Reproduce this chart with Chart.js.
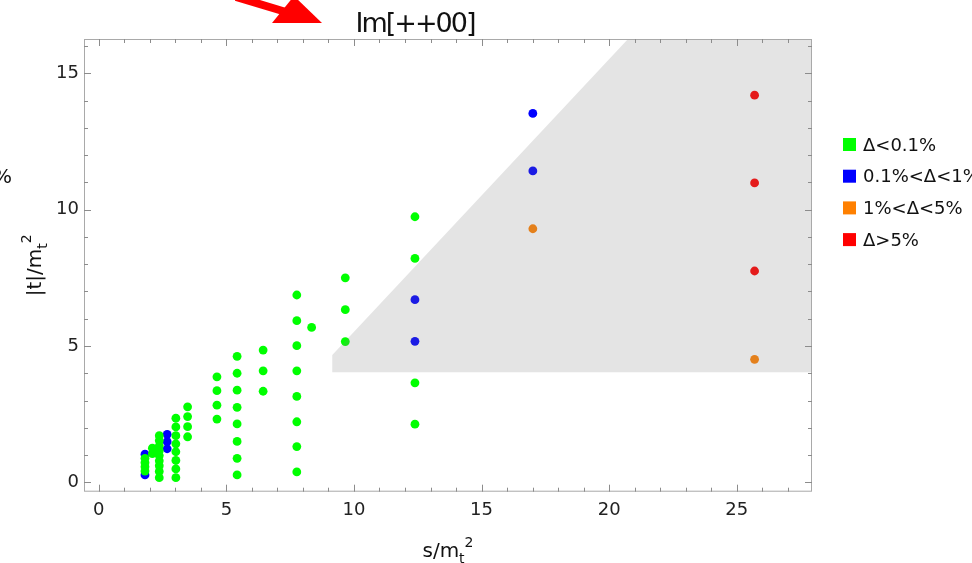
<!DOCTYPE html>
<html>
<head>
<meta charset="utf-8">
<script src="https://cdn.jsdelivr.net/npm/chart.js@4.4.1/dist/chart.umd.min.js"></script>
<style>
  html, body { margin: 0; padding: 0; background: #fff; }
  #wrap { width: 972px; height: 563px; position: relative; overflow: hidden; }
</style>
</head>
<body>
<div id="wrap"><canvas id="c" width="972" height="563"></canvas></div>
<script>
// points as [s/mt^2, |t|/mt^2]
const greenPoints = [
  [1.81, 0.88], [1.81, 0.72], [1.81, 0.57], [1.81, 0.41],
  [2.10, 1.25], [2.10, 1.05],
  [2.37, 1.71], [2.37, 1.53], [2.37, 1.34], [2.37, 1.16], [2.37, 0.98],
  [2.37, 0.79], [2.37, 0.61], [2.37, 0.40], [2.37, 0.17],
  [3.02, 2.35], [3.02, 2.03], [3.02, 1.71], [3.02, 1.41], [3.02, 1.12],
  [3.02, 0.80], [3.02, 0.49], [3.02, 0.17],
  [3.48, 2.77], [3.48, 2.41], [3.48, 2.04], [3.48, 1.67],
  [4.63, 3.87], [4.63, 3.36], [4.63, 2.83], [4.63, 2.32],
  [5.42, 4.62], [5.42, 4.00], [5.42, 3.38], [5.42, 2.75], [5.42, 2.14],
  [5.42, 1.50], [5.42, 0.88], [5.42, 0.27],
  [6.44, 4.85], [6.44, 4.09], [6.44, 3.34],
  [7.76, 6.87], [7.76, 5.93], [7.76, 5.01], [7.76, 4.09], [7.76, 3.15],
  [7.76, 2.22], [7.76, 1.31], [7.76, 0.38],
  [8.34, 5.68],
  [9.66, 7.50], [9.66, 6.33], [9.66, 5.16],
  [12.39, 9.74], [12.39, 8.21], [12.39, 3.65], [12.39, 2.13]
];
const bluePoints = [
  [1.81, 1.03], [1.81, 0.27],
  [2.68, 1.76], [2.68, 1.49], [2.68, 1.23],
  [12.39, 6.70], [12.39, 5.17],
  [17.01, 13.53], [17.01, 11.42]
];
const orangePoints = [[17.01, 9.30], [25.70, 4.51]];
const redPoints = [[25.70, 14.20], [25.70, 10.98], [25.70, 7.75]];

// shaded region outline
const regionOutline = [[9.15, 4.04], [9.15, 4.67], [22.0, 17.52], [30, 17.52], [30, 4.04], [9.15, 4.04]];

const legendLabels = ["Δ<0.1%", "0.1%<Δ<1%", "1%<Δ<5%", "Δ>5%"];
const legendColors = ["#00ff00", "#0000ff", "#ff8000", "#ff0000"];

const xMin = -0.58, xMax = 27.95;
const yMin = -0.345, yMax = 16.26;

const FONT = "'DejaVu Sans', sans-serif";

function toXY(list) {
  return list.map(p => ({ x: p[0], y: p[1] }));
}

// frame with inward ticks on all four sides
const framePlugin = {
  id: "frame",
  afterDatasetsDraw(chart) {
    const { ctx, chartArea: a, scales: { x, y } } = chart;
    ctx.save();
    ctx.strokeStyle = "#a9a9a9";
    ctx.lineWidth = 1;
    ctx.strokeRect(a.left + 0.5, a.top + 0.5, a.right - a.left - 1, a.bottom - a.top - 1);
    ctx.strokeStyle = "#8c8c8c";
    ctx.beginPath();
    for (let v = Math.ceil(xMin); v <= Math.floor(xMax); v++) {
      const px = Math.round(x.getPixelForValue(v)) + 0.5;
      const len = v % 5 === 0 ? 7 : 4;
      ctx.moveTo(px, a.bottom); ctx.lineTo(px, a.bottom - len);
      ctx.moveTo(px, a.top); ctx.lineTo(px, a.top + len);
    }
    for (let v = Math.ceil(yMin); v <= Math.floor(yMax); v++) {
      const py = Math.round(y.getPixelForValue(v)) + 0.5;
      const len = v % 5 === 0 ? 7 : 4;
      ctx.moveTo(a.left, py); ctx.lineTo(a.left + len, py);
      ctx.moveTo(a.right, py); ctx.lineTo(a.right - len, py);
    }
    ctx.stroke();
    ctx.restore();
  }
};

function drawLabel(ctx, parts, size) {
  // parts: [text, kind] kind = main | sub | sup
  let w = 0;
  const small = Math.round(size * 0.7);
  const widths = parts.map(([t, k]) => {
    ctx.font = (k === "main" ? size : small) + "px " + FONT;
    return ctx.measureText(t).width;
  });
  // sup placed right after sub without sharing x
  widths.forEach(v => { w += v; });
  let cx = -w / 2;
  parts.forEach(([t, k], i) => {
    ctx.font = (k === "main" ? size : small) + "px " + FONT;
    const dy = k === "sub" ? size * 0.28 : k === "sup" ? -size * 0.5 : 0;
    ctx.fillText(t, cx, dy);
    cx += widths[i];
  });
}

const decorPlugin = {
  id: "decor",
  afterDraw(chart) {
    const { ctx, chartArea: a } = chart;
    ctx.save();
    ctx.fillStyle = "#111";
    ctx.textAlign = "left";
    ctx.textBaseline = "alphabetic";

    // title
    ctx.font = "27px " + FONT;
    ctx.letterSpacing = "-2px";
    ctx.textAlign = "center";
    ctx.fillText("Im[++00]", 415, 32);
    ctx.letterSpacing = "0px";
    ctx.textAlign = "left";

    // cut-off text at left edge
    ctx.font = "20px " + FONT;
    ctx.fillText("%", -7, 183);

    // red arrow
    ctx.fillStyle = "#ff0000";
    ctx.strokeStyle = "#ff0000";
    ctx.lineWidth = 8;
    ctx.beginPath();
    ctx.moveTo(236, -3);
    ctx.lineTo(286, 12);
    ctx.stroke();
    ctx.beginPath();
    ctx.moveTo(294, -4);
    ctx.lineTo(322, 23);
    ctx.lineTo(272, 23);
    ctx.closePath();
    ctx.fill();

    // axis titles
    ctx.fillStyle = "#111";
    ctx.save();
    ctx.translate((a.left + a.right) / 2, 557);
    drawLabel(ctx, [["s/m", "main"], ["t", "sub"], ["2", "sup"]], 20);
    ctx.restore();
    ctx.save();
    ctx.translate(41, (a.top + a.bottom) / 2);
    ctx.rotate(-Math.PI / 2);
    drawLabel(ctx, [["|t|/m", "main"], ["t", "sub"], ["2", "sup"]], 20);
    ctx.restore();

    // legend
    ctx.font = "18px " + FONT;
    ctx.textBaseline = "middle";
    legendLabels.forEach((lab, i) => {
      const cy = 145 + i * 31.7;
      ctx.fillStyle = legendColors[i];
      ctx.fillRect(843, cy - 7, 13, 13);
      ctx.fillStyle = "#111";
      ctx.fillText(lab, 863, cy + 1);
    });
    ctx.restore();
  }
};

const pointStyle = (color) => ({
  type: "scatter",
  backgroundColor: color,
  borderWidth: 0,
  pointRadius: 4.4,
  pointHoverRadius: 4.4
});

new Chart(document.getElementById("c"), {
  type: "scatter",
  data: {
    datasets: [
      {
        type: "line",
        label: "region",
        data: toXY(regionOutline),
        fill: "shape",
        backgroundColor: "rgba(128,128,128,0.21)",
        borderWidth: 0,
        pointRadius: 0,
        tension: 0
      },
      Object.assign({ label: legendLabels[0], data: toXY(greenPoints) }, pointStyle("#00ff00")),
      Object.assign({ label: legendLabels[1], data: toXY(bluePoints) }, pointStyle("#0000ff")),
      Object.assign({ label: legendLabels[2], data: toXY(orangePoints) }, pointStyle("#ff8000")),
      Object.assign({ label: legendLabels[3], data: toXY(redPoints) }, pointStyle("#ff0000"))
    ]
  },
  options: {
    responsive: false,
    animation: false,
    layout: { padding: { left: 0, right: 160, top: 39, bottom: 0 } },
    plugins: {
      legend: { display: false },
      tooltip: { enabled: false },
      title: { display: false }
    },
    scales: {
      x: {
        type: "linear",
        min: xMin,
        max: xMax,
        grid: { display: false, drawTicks: false },
        border: { display: false },
        ticks: {
          stepSize: 5,
          includeBounds: false,
          padding: 8,
          color: "#222",
          font: { family: FONT, size: 18 },
          maxRotation: 0
        },
        afterFit(scale) { scale.height = 71.3; }
      },
      y: {
        type: "linear",
        min: yMin,
        max: yMax,
        grid: { display: false, drawTicks: false },
        border: { display: false },
        ticks: {
          stepSize: 5,
          includeBounds: false,
          padding: 5,
          color: "#222",
          font: { family: FONT, size: 18 }
        },
        afterFit(scale) { scale.width = 84; }
      }
    }
  },
  plugins: [framePlugin, decorPlugin]
});
</script>
</body>
</html>
